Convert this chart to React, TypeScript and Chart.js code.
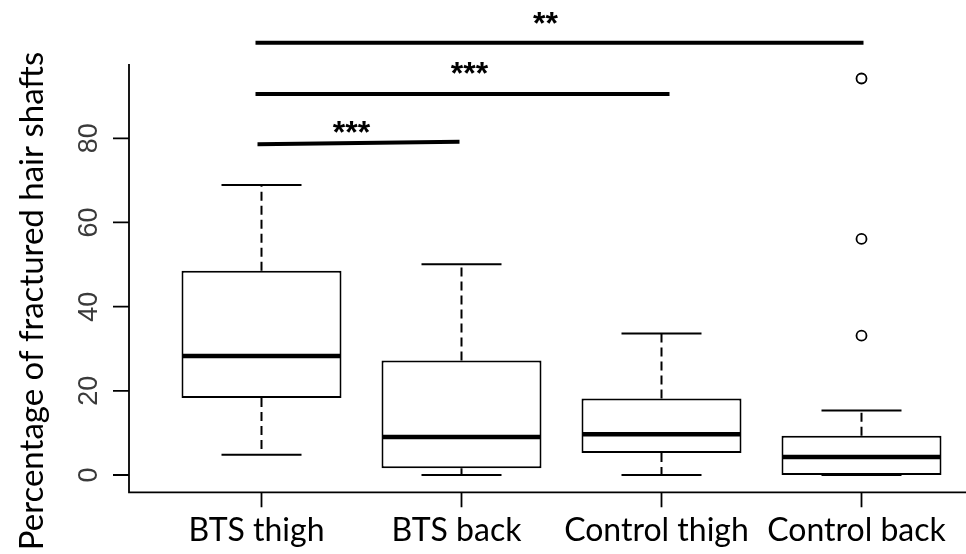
import { useEffect, useRef } from "react";
import { Chart, registerables } from "chart.js";

Chart.register(...registerables);

// ---- data ----
const categories = ["BTS thigh", "BTS back", "Control thigh", "Control back"];
const whiskerLow = [4.8, 0, 0, 0];
const q1 = [18.3, 1.6, 5.2, 0];
const median = [28.3, 9.0, 9.7, 4.3];
const q3 = [48.5, 27.2, 18.2, 9.3];
const whiskerHigh = [68.9, 50.1, 33.6, 15.3];
const outlierGroup = [4, 4, 4];
const outlierValue = [94.2, 56.1, 33.1];
const yTicks = [0, 20, 40, 60, 80];
const sigFrom = [0.97, 0.97, 0.98];
const sigTo = [4.01, 3.04, 1.99];
const sigYStart = [102.7, 90.5, 78.6];
const sigYEnd = [102.7, 90.5, 79.2];
const sigLabels = ["**", "***", "***"];
const sigLabelX = [2.42, 2.04, 1.45];
const sigLabelY = [108.6, 96.7, 82.7];
const yTitle = "Percentage of fractured hair shafts";

const W = 966;
const H = 554;

const boxPlugin = {
  id: "boxplotExtras",
  beforeDraw(chart: any) {
    const ctx = chart.ctx;
    ctx.save();
    ctx.fillStyle = "#ffffff";
    ctx.fillRect(0, 0, chart.width, chart.height);
    ctx.restore();
  },
  afterDatasetsDraw(chart: any) {
    const ctx = chart.ctx;
    const xs = chart.scales.x;
    const ys = chart.scales.y;
    const meta = chart.getDatasetMeta(0);
    ctx.save();
    ctx.strokeStyle = "#000";
    ctx.lineCap = "butt";
    categories.forEach((_, i) => {
      const el = meta.data[i];
      const cx = xs.getPixelForValue(i + 1);
      const half = el.width / 2;
      const capHalf = half / 2;
      ctx.lineWidth = 2;
      ctx.setLineDash([9, 5]);
      ctx.beginPath();
      ctx.moveTo(cx, ys.getPixelForValue(q3[i]));
      ctx.lineTo(cx, ys.getPixelForValue(whiskerHigh[i]));
      ctx.moveTo(cx, ys.getPixelForValue(q1[i]));
      ctx.lineTo(cx, ys.getPixelForValue(whiskerLow[i]));
      ctx.stroke();
      ctx.setLineDash([]);
      ctx.beginPath();
      const yh = ys.getPixelForValue(whiskerHigh[i]);
      const yl = ys.getPixelForValue(whiskerLow[i]);
      ctx.moveTo(cx - capHalf, yh);
      ctx.lineTo(cx + capHalf, yh);
      ctx.moveTo(cx - capHalf, yl);
      ctx.lineTo(cx + capHalf, yl);
      ctx.stroke();
      ctx.lineWidth = 4.5;
      ctx.beginPath();
      const ym = ys.getPixelForValue(median[i]);
      ctx.moveTo(el.x - half + 1, ym);
      ctx.lineTo(el.x + half - 1, ym);
      ctx.stroke();
    });
    ctx.restore();
  },
  afterDraw(chart: any) {
    const ctx = chart.ctx;
    const xs = chart.scales.x;
    const ys = chart.scales.y;
    const a = chart.chartArea;
    ctx.save();
    ctx.strokeStyle = "#000";
    ctx.fillStyle = "#000";
    ctx.lineWidth = 1.8;
    ctx.beginPath();
    ctx.moveTo(a.left, a.top);
    ctx.lineTo(a.left, a.bottom);
    ctx.lineTo(a.right, a.bottom);
    ctx.stroke();
    ctx.beginPath();
    yTicks.forEach((t) => {
      const py = ys.getPixelForValue(t);
      ctx.moveTo(a.left - 16, py);
      ctx.lineTo(a.left, py);
    });
    categories.forEach((_, i) => {
      const px = xs.getPixelForValue(i + 1);
      ctx.moveTo(px, a.bottom);
      ctx.lineTo(px, a.bottom + 15);
    });
    ctx.stroke();
    ctx.fillStyle = "#3a3a3a";
    ctx.font = '27px "Liberation Sans", Arial, sans-serif';
    ctx.textAlign = "center";
    ctx.textBaseline = "alphabetic";
    yTicks.forEach((t) => {
      const py = ys.getPixelForValue(t);
      ctx.save();
      ctx.translate(a.left - 32, py);
      ctx.rotate(-Math.PI / 2);
      ctx.fillText(String(t), 0, 0);
      ctx.restore();
    });
    ctx.fillStyle = "#000";
    ctx.font = '33px Lato, "Open Sans", sans-serif';
    ctx.save();
    ctx.translate(43, 301);
    ctx.rotate(-Math.PI / 2);
    ctx.fillText(yTitle, 0, 0);
    ctx.restore();
    ctx.font = '32px Lato, "Open Sans", sans-serif';
    categories.forEach((c, i) => {
      const px = xs.getPixelForValue(i + 1);
      ctx.fillText(c, px - 5, 541);
    });
    ctx.lineWidth = 4;
    sigLabels.forEach((_, i) => {
      ctx.beginPath();
      ctx.moveTo(xs.getPixelForValue(sigFrom[i]), ys.getPixelForValue(sigYStart[i]));
      ctx.lineTo(xs.getPixelForValue(sigTo[i]), ys.getPixelForValue(sigYEnd[i]));
      ctx.stroke();
    });
    ctx.font = 'bold 32px "Liberation Sans", Arial, sans-serif';
    sigLabels.forEach((lab, i) => {
      const px = xs.getPixelForValue(sigLabelX[i]);
      const py = ys.getPixelForValue(sigLabelY[i]);
      ctx.fillText(lab, px, py + 32 * 0.5);
    });
    ctx.restore();
  },
};

export default function App() {
  const ref = useRef<HTMLCanvasElement | null>(null);
  useEffect(() => {
    if (!ref.current) return;
    const chart = new Chart(ref.current, {
      type: "bar",
      data: {
        datasets: [
          {
            type: "bar",
            data: categories.map((_, i) => ({ x: i + 1, y: [q1[i], q3[i]] })) as any,
            backgroundColor: "#ffffff",
            borderColor: "#000000",
            borderWidth: 2,
            borderSkipped: false,
            barPercentage: 0.8,
            categoryPercentage: 1,
          } as any,
          {
            type: "scatter",
            data: outlierGroup.map((g, i) => ({ x: g, y: outlierValue[i] })),
            pointRadius: 5,
            pointBorderWidth: 1.8,
            pointBackgroundColor: "#ffffff",
            pointBorderColor: "#000000",
            showLine: false,
          } as any,
        ],
      },
      options: {
        responsive: false,
        animation: false,
        layout: { autoPadding: false, padding: { left: 129, top: 64, right: 0, bottom: H - 492.3 } },
        plugins: { legend: { display: false }, tooltip: { enabled: false }, title: { display: false } },
        scales: {
          x: {
            type: "linear",
            min: 0.3375,
            max: 4.5225,
            offset: false,
            display: false,
            afterBuildTicks: (s: any) => {
              s.ticks = categories.map((_, i) => ({ value: i + 1 }));
            },
          },
          y: { type: "linear", min: -4.11, max: 97.65, display: false },
        },
      },
      plugins: [boxPlugin],
    });
    return () => chart.destroy();
  }, []);
  return (
    <div style={{ position: "absolute", left: 0, top: 0, width: W, height: H, background: "#fff" }}>
      <canvas ref={ref} width={W} height={H} style={{ display: "block", width: W, height: H }} />
    </div>
  );
}
